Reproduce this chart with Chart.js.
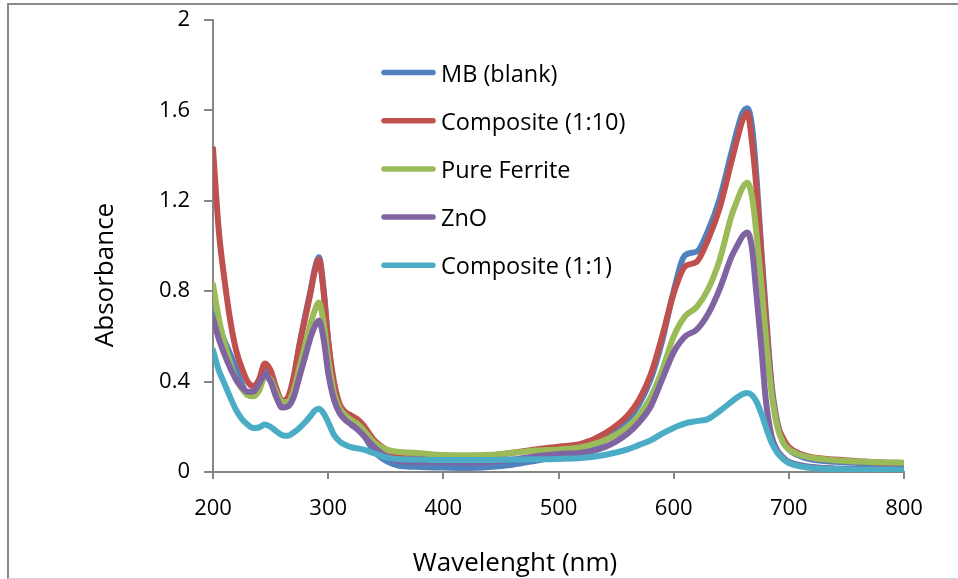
<!DOCTYPE html>
<html>
<head>
<meta charset="utf-8">
<script src="https://cdn.jsdelivr.net/npm/chart.js"></script>
<style>
  html, body { margin: 0; padding: 0; background: #fff; overflow: hidden; }
  #frame {
    position: absolute; left: 7px; top: 3px; width: 1000px; height: 573px;
    border-top: 2px solid #8a8a8a; border-left: 2px solid #8a8a8a; border-bottom: 1px solid #d4d4d4;
  }
  #chart { position: absolute; left: 0; top: 0; }
</style>
</head>
<body>
<div id="frame"></div>
<canvas id="chart" width="958" height="579"></canvas>
<script>
// UV-Vis spectra (absorbance vs wavelength)
const wavelengths = [200,205,210,215,220,225,230,235,240,245,250,255,260,265,270,275,280,285,288,292,296,300,305,310,315,320,325,330,340,350,360,380,400,420,440,460,480,500,520,540,560,570,580,590,600,610,620,630,640,650,655,660,664,668,672,676,680,685,690,695,700,710,720,740,760,780,800];

const mbBlank = [0.70,0.64,0.58,0.52,0.46,0.39,0.345,0.34,0.38,0.45,0.42,0.35,0.30,0.32,0.41,0.56,0.69,0.81,0.89,0.95,0.81,0.58,0.38,0.28,0.24,0.22,0.20,0.17,0.09,0.05,0.03,0.022,0.02,0.018,0.022,0.032,0.05,0.07,0.09,0.14,0.23,0.30,0.41,0.58,0.80,0.96,0.975,1.07,1.21,1.41,1.51,1.59,1.61,1.53,1.30,0.99,0.71,0.39,0.22,0.14,0.10,0.07,0.055,0.045,0.04,0.037,0.035];

const composite110 = [1.43,1.07,0.85,0.67,0.54,0.46,0.40,0.38,0.41,0.48,0.45,0.37,0.315,0.33,0.42,0.56,0.68,0.80,0.88,0.94,0.80,0.58,0.40,0.30,0.265,0.25,0.235,0.21,0.14,0.10,0.08,0.078,0.072,0.068,0.072,0.085,0.10,0.112,0.125,0.17,0.25,0.32,0.43,0.60,0.79,0.91,0.93,1.03,1.17,1.37,1.47,1.56,1.59,1.46,1.25,0.97,0.68,0.37,0.21,0.15,0.11,0.08,0.066,0.055,0.048,0.042,0.04];

const pureFerrite = [0.83,0.68,0.57,0.48,0.41,0.37,0.34,0.335,0.36,0.42,0.41,0.35,0.31,0.31,0.36,0.46,0.56,0.66,0.71,0.75,0.66,0.50,0.35,0.28,0.25,0.23,0.215,0.19,0.13,0.10,0.09,0.083,0.075,0.074,0.076,0.085,0.095,0.10,0.11,0.14,0.20,0.25,0.33,0.45,0.60,0.69,0.73,0.81,0.94,1.13,1.20,1.26,1.28,1.22,1.05,0.84,0.60,0.35,0.20,0.13,0.10,0.075,0.063,0.052,0.047,0.043,0.041];

const zno = [0.68,0.59,0.52,0.46,0.41,0.375,0.355,0.355,0.39,0.43,0.40,0.33,0.285,0.29,0.33,0.42,0.51,0.60,0.64,0.67,0.59,0.44,0.32,0.26,0.23,0.21,0.19,0.165,0.11,0.07,0.05,0.045,0.044,0.042,0.045,0.055,0.07,0.08,0.085,0.11,0.17,0.22,0.29,0.41,0.53,0.60,0.63,0.70,0.81,0.95,1.00,1.045,1.06,0.99,0.78,0.56,0.32,0.16,0.095,0.065,0.045,0.03,0.022,0.016,0.014,0.012,0.011];

const composite11 = [0.54,0.45,0.39,0.33,0.275,0.235,0.21,0.195,0.197,0.21,0.20,0.18,0.163,0.16,0.175,0.195,0.22,0.25,0.27,0.28,0.26,0.22,0.165,0.135,0.12,0.11,0.105,0.10,0.083,0.065,0.058,0.055,0.053,0.053,0.053,0.055,0.056,0.058,0.062,0.075,0.10,0.12,0.14,0.17,0.195,0.215,0.225,0.235,0.27,0.31,0.33,0.345,0.35,0.34,0.31,0.26,0.20,0.13,0.085,0.058,0.04,0.025,0.018,0.013,0.011,0.01,0.01];

const seriesNames = ['MB (blank)', 'Composite (1:10)', 'Pure Ferrite', 'ZnO', 'Composite (1:1)'];
const seriesColors = ['#4f81bd', '#c0504d', '#9bbb59', '#8064a2', '#4bacc6'];
const seriesValues = [mbBlank, composite110, pureFerrite, zno, composite11];

const xTicks = [200, 300, 400, 500, 600, 700, 800];
const yTicks = [0, 0.4, 0.8, 1.2, 1.6, 2];

const FONT = '"Open Sans", "DejaVu Sans", sans-serif';
const AXIS_GREY = '#868686';

// legend + axis titles drawn by hand to sit where the original puts them
const decorations = {
    id: 'decorations',
    afterDraw(chart) {
        const ctx = chart.ctx;
        ctx.save();
        ctx.fillStyle = '#000';

        // legend inside the plot
        ctx.font = '23.5px ' + FONT;
        ctx.textAlign = 'left';
        ctx.textBaseline = 'alphabetic';
        chart.data.datasets.forEach((ds, i) => {
            const y = 72.5 + i * 48.2;
            ctx.strokeStyle = ds.borderColor;
            ctx.lineWidth = 5.5;
            ctx.lineCap = 'round';
            ctx.beginPath();
            ctx.moveTo(384, y);
            ctx.lineTo(433, y);
            ctx.stroke();
            ctx.fillText(ds.label, 441, y + 9);
        });

        // axis titles
        ctx.font = '26px ' + FONT;
        ctx.textAlign = 'center';
        ctx.fillText('Wavelenght (nm)', 515, 571);

        ctx.translate(113, 275);
        ctx.rotate(-Math.PI / 2);
        ctx.fillText('Absorbance', 0, 0);
        ctx.restore();
    }
};

const datasets = seriesValues.map((vals, i) => ({
    label: seriesNames[i],
    data: wavelengths.map((w, j) => ({ x: w, y: vals[j] })),
    borderColor: seriesColors[i],
    backgroundColor: seriesColors[i],
    borderWidth: 6,
    borderCapStyle: 'round',
    borderJoinStyle: 'round',
    pointRadius: 0,
    cubicInterpolationMode: 'monotone',
    fill: false,
    order: seriesValues.length - i
}));

new Chart(document.getElementById('chart'), {
    type: 'line',
    data: { datasets },
    options: {
        responsive: false,
        animation: false,
        devicePixelRatio: 1,
        layout: { padding: { left: 0, top: 20, right: 54, bottom: 0 } },
        plugins: { legend: { display: false }, tooltip: { enabled: false } },
        scales: {
            x: {
                type: 'linear',
                min: 200,
                max: 800,
                afterBuildTicks: s => { s.ticks = xTicks.map(v => ({ value: v })); },
                afterFit: s => { s.height = 107; s.paddingLeft = 0; s.paddingRight = 0; },
                ticks: { color: '#000', font: { family: FONT, size: 22 }, padding: 17 },
                grid: { drawOnChartArea: false, drawTicks: true, tickLength: 7, color: AXIS_GREY, lineWidth: 2 },
                border: { display: true, color: AXIS_GREY, width: 2 }
            },
            y: {
                min: 0,
                max: 2,
                afterBuildTicks: s => { s.ticks = yTicks.map(v => ({ value: v })); },
                afterFit: s => { s.width = 213; s.paddingTop = 0; s.paddingBottom = 0; },
                ticks: {
                    color: '#000',
                    font: { family: FONT, size: 22 },
                    padding: 14,
                    callback: v => String(Math.round(v * 10) / 10)
                },
                grid: { drawOnChartArea: false, drawTicks: true, tickLength: 9, color: AXIS_GREY, lineWidth: 2 },
                border: { display: true, color: AXIS_GREY, width: 2 }
            }
        }
    },
    plugins: [decorations]
});
</script>
</body>
</html>
